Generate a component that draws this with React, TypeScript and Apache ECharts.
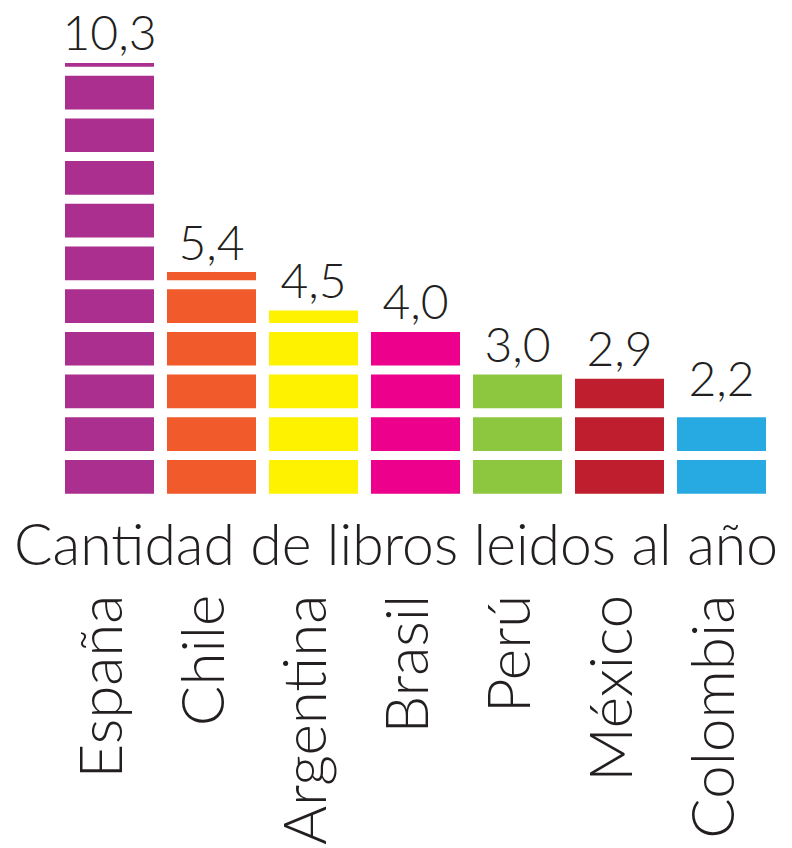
import React, { useEffect, useRef } from "react";
import * as echarts from "echarts";

const countries = ["España", "Chile", "Argentina", "Brasil", "Perú", "México", "Colombia"];
const booksPerYear = [10.3, 5.4, 4.5, 4.0, 3.0, 2.9, 2.2];
const barColors = ["#AB2F8E", "#F15A2B", "#FFF200", "#EC008C", "#8DC63F", "#BE1E2D", "#27AAE1"];
const chartTitle = "Cantidad de libros leidos al año";

const FONT = "Lato, 'Open Sans', sans-serif";
const TEXT_COLOR = "#231F20";

const formatValue = (v: number) => v.toFixed(1).replace(".", ",");

export default function App() {
  const ref = useRef<HTMLDivElement>(null);
  useEffect(() => {
    if (!ref.current) return;
    const chart = echarts.init(ref.current, undefined, { renderer: "svg" });
    chart.setOption({
      animation: false,
      backgroundColor: "#ffffff",
      title: {
        text: chartTitle,
        left: "center",
        top: 514,
        padding: 0,
        textStyle: {
          fontFamily: FONT,
          fontWeight: 300,
          fontSize: 57,
          color: TEXT_COLOR,
        },
      },
      grid: { left: 58.5, right: 19.5, top: 24, bottom: 351 },
      xAxis: {
        type: "category",
        data: countries,
        axisLine: { show: false },
        axisTick: { show: false },
        splitLine: { show: false },
        axisLabel: {
          rotate: 90,
          margin: 101,
          verticalAlign: "bottom",
          lineHeight: 22,
          fontFamily: FONT,
          fontWeight: 300,
          fontSize: 60,
          color: TEXT_COLOR,
          interval: 0,
        },
      },
      yAxis: {
        type: "value",
        min: 0,
        max: 11,
        show: false,
        splitLine: { show: false },
      },
      series: [
        {
          type: "custom",
          data: booksPerYear.map((v, i) => [i, v]),
          renderItem: (params: any, api: any) => {
            const idx = api.value(0);
            const v = api.value(1);
            const base = api.coord([idx, 0]);
            const unit = api.size([0, 1])[1];
            const band = api.size([1, 0])[0];
            const w = band * (89 / 102);
            const gap = 9;
            const children: any[] = [];
            for (let i = 0; i < v; i++) {
              const segTop = Math.min(i + 1, v);
              const h = (segTop - i) * unit - gap;
              if (h <= 0) continue;
              children.push({
                type: "rect",
                shape: { x: base[0] - w / 2, y: base[1] - i * unit - h, width: w, height: h },
                style: { fill: barColors[idx] },
              });
            }
            const top = api.coord([idx, v]);
            children.push({
              type: "text",
              x: top[0],
              y: top[1] + 2,
              style: {
                text: formatValue(v),
                fill: TEXT_COLOR,
                fontFamily: FONT,
                fontWeight: 300,
                fontSize: 48,
                align: "center",
                verticalAlign: "bottom",
              },
            });
            return { type: "group", children };
          },
        },
      ],
    });
    return () => chart.dispose();
  }, []);
  return (
    <div
      ref={ref}
      style={{ position: "fixed", left: 0, top: 0, width: 792, height: 848, background: "#fff" }}
    />
  );
}
